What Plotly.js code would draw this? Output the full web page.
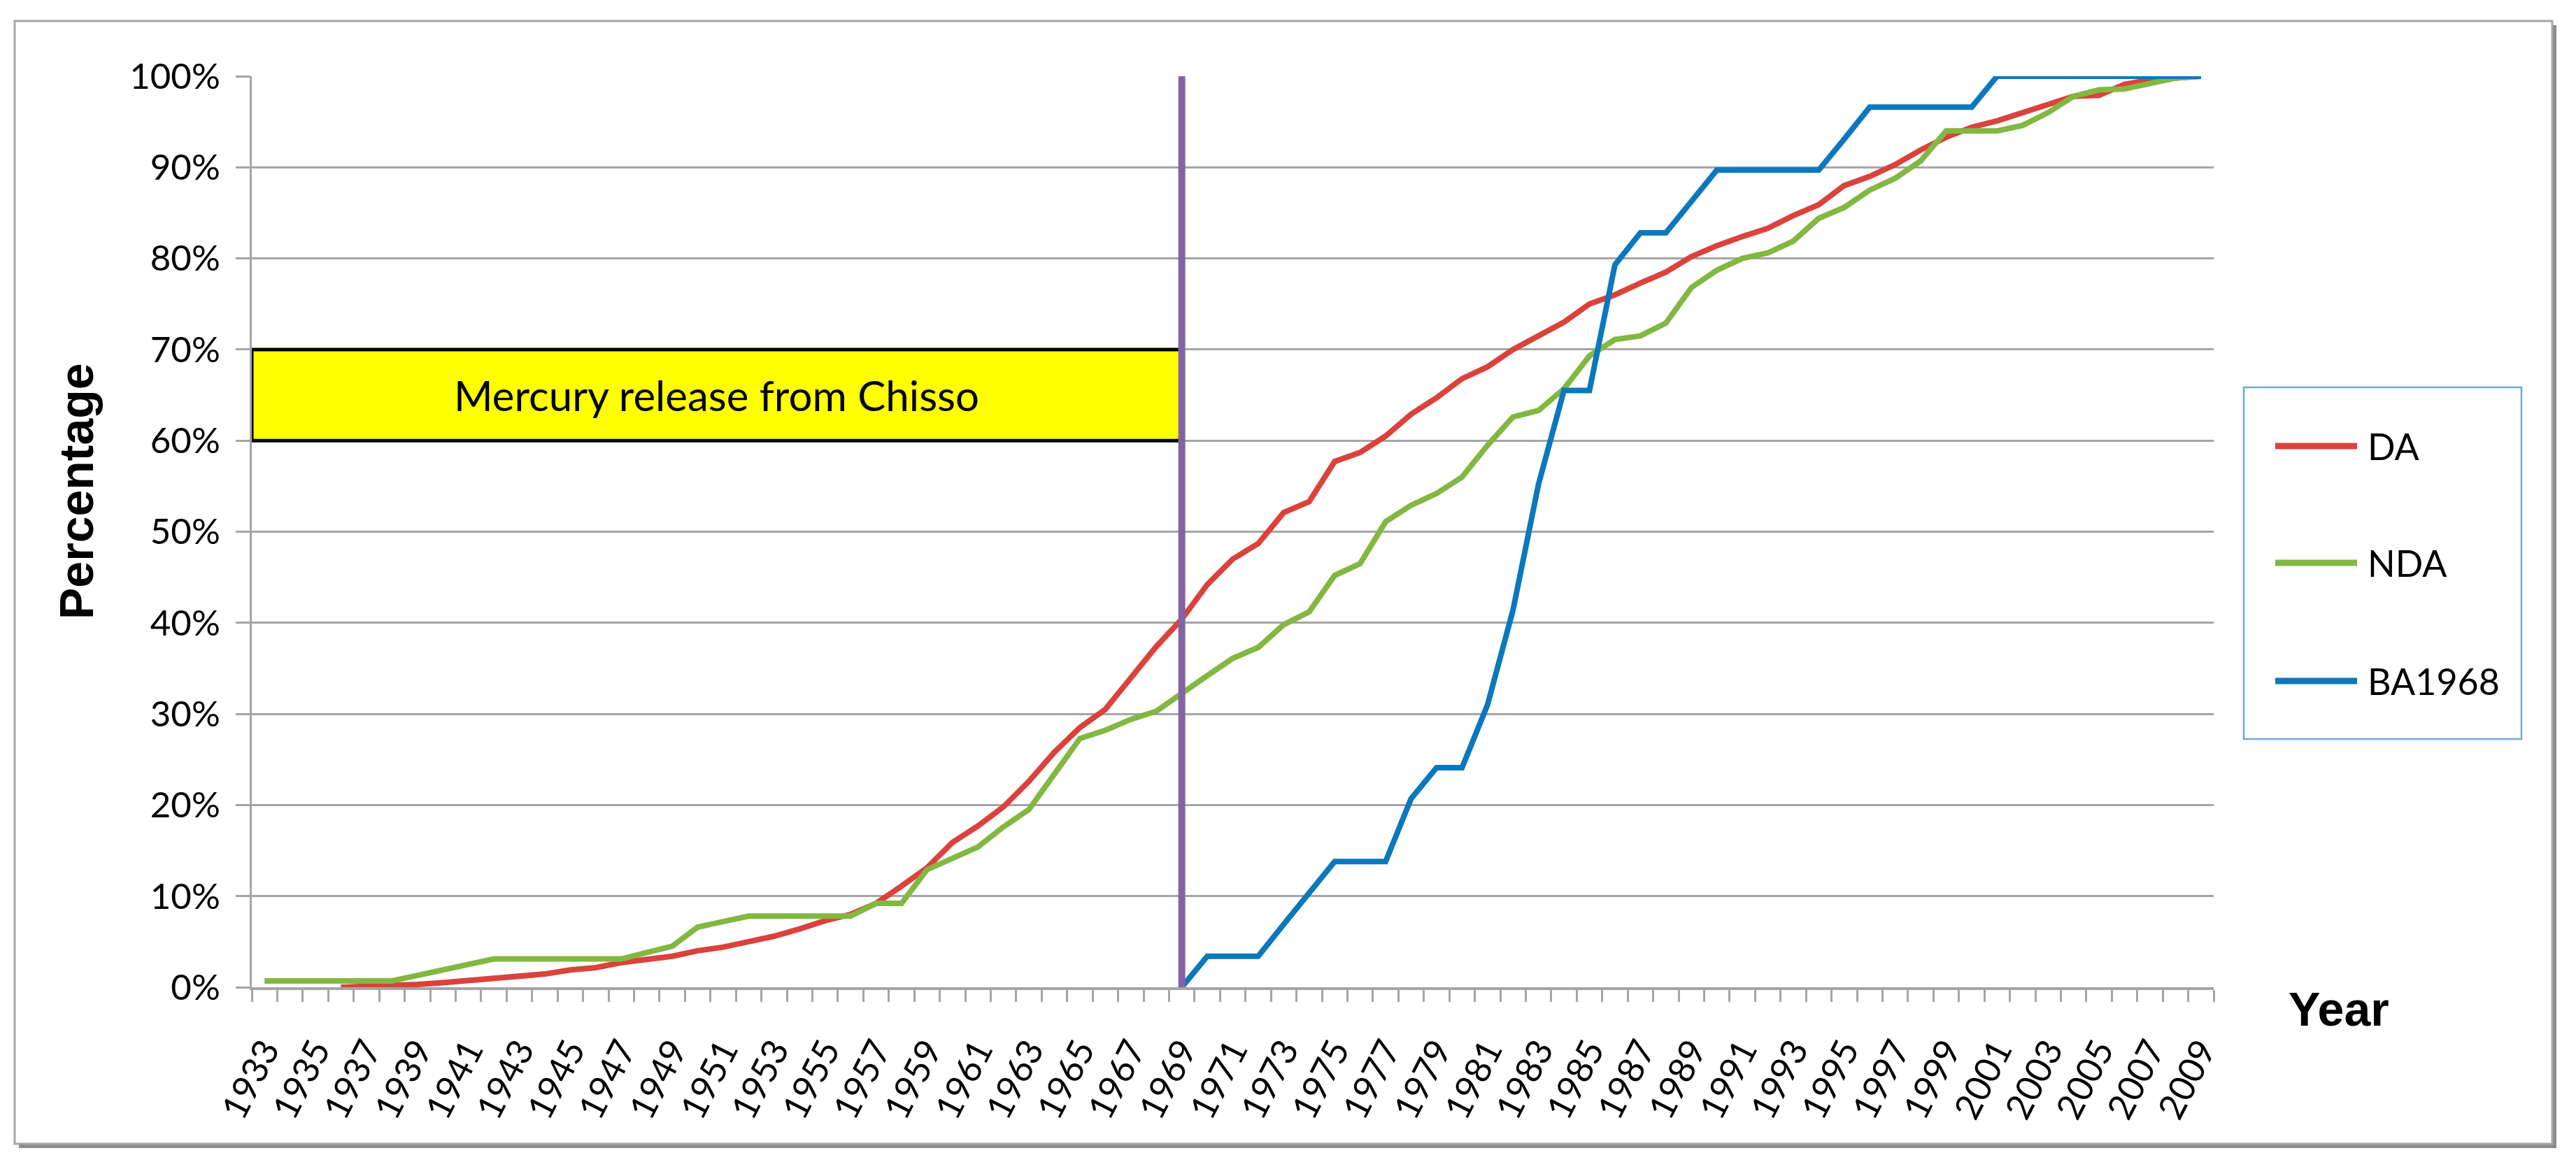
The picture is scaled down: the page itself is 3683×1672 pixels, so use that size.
<!DOCTYPE html>
<html>
<head>
<meta charset="utf-8">
<script src="https://cdn.plot.ly/plotly-3.0.1.min.js"></script>
<style>
  body { margin: 0; background: #fff; }
</style>
</head>
<body>
<div id="chart" style="width:3683px;height:1672px"></div>
<script>
// years on the category axis
const years = [
  1933, 1934, 1935, 1936, 1937, 1938, 1939, 1940, 1941, 1942, 1943, 1944, 1945, 1946, 1947, 1948,
  1949, 1950, 1951, 1952, 1953, 1954, 1955, 1956, 1957, 1958, 1959, 1960, 1961, 1962, 1963, 1964,
  1965, 1966, 1967, 1968, 1969, 1970, 1971, 1972, 1973, 1974, 1975, 1976, 1977, 1978, 1979, 1980,
  1981, 1982, 1983, 1984, 1985, 1986, 1987, 1988, 1989, 1990, 1991, 1992, 1993, 1994, 1995, 1996,
  1997, 1998, 1999, 2000, 2001, 2002, 2003, 2004, 2005, 2006, 2007, 2008, 2009
];

// cumulative percentage
const da = [
  null, null, null, 0, 0.05, 0.15, 0.3, 0.5, 0.75, 1.0, 1.2, 1.45, 1.9, 2.15, 2.7, 3.1,
  3.4, 4.0, 4.4, 5.0, 5.6, 6.4, 7.3, 8.0, 9.2, 11.1, 13.1, 15.9, 17.7, 19.8, 22.6, 25.8,
  28.5, 30.5, 33.9, 37.4, 40.4, 44.2, 47.0, 48.7, 52.1, 53.3, 57.7, 58.7, 60.5, 62.9, 64.7, 66.8,
  68.1, 70.0, 71.5, 73.0, 75.0, 76.0, 77.3, 78.5, 80.2, 81.4, 82.4, 83.3, 84.7, 85.9, 88.0, 89.0,
  90.3, 91.9, 93.3, 94.4, 95.1, 96.0, 96.9, 97.8, 97.9, 99.1, 99.6, 99.8, 100
];

const nda = [
  0.7, 0.7, 0.7, 0.7, 0.7, 0.7, 1.3, 1.9, 2.5, 3.1, 3.1, 3.1, 3.1, 3.1, 3.1, 3.8,
  4.5, 6.6, 7.2, 7.8, 7.8, 7.8, 7.8, 7.8, 9.2, 9.2, 12.9, 14.1, 15.4, 17.6, 19.5, 23.4,
  27.3, 28.2, 29.4, 30.3, 32.3, 34.2, 36.1, 37.3, 39.8, 41.2, 45.2, 46.5, 51.1, 52.9, 54.2, 56.0,
  59.5, 62.6, 63.3, 65.7, 69.3, 71.1, 71.5, 72.9, 76.8, 78.7, 80.0, 80.6, 81.9, 84.4, 85.6, 87.5,
  88.8, 90.7, 94.0, 94.0, 94.0, 94.6, 96.0, 97.8, 98.5, 98.6, 99.2, 99.8, 100
];

const ba1968 = [
  null, null, null, null, null, null, null, null, null, null, null, null,
  null, null, null, null, null, null, null, null, null, null, null, null,
  null, null, null, null, null, null, null, null, null, null, null, null,
  0, 3.4, 3.4, 3.4, 6.9, 10.3, 13.8, 13.8, 13.8, 20.7, 24.1, 24.1,
  31.0, 41.4, 55.2, 65.5, 65.5, 79.3, 82.8, 82.8, 86.2, 89.7, 89.7, 89.7,
  89.7, 89.7, 93.1, 96.6, 96.6, 96.6, 96.6, 96.6, 100, 100, 100, 100,
  100, 100, 100, 100, 100
];

const seriesNames = ['DA', 'NDA', 'BA1968'];
const seriesColors = ['#DB423C', '#82B842', '#0B78BE'];

// end of the mercury release period
const releaseYear = [1969, 1969];
const releaseSpan = [0, 100];
const releaseBand = [60, 70];
const releaseText = 'Mercury release from Chisso';

const yTickVals = [0, 10, 20, 30, 40, 50, 60, 70, 80, 90, 100];
const yTickText = ['0%', '10%', '20%', '30%', '40%', '50%', '60%', '70%', '80%', '90%', '100%'];
const xLabelYears = years.filter(y => y % 2 === 1);

// plot area in page pixels
const L = 360, R = 3165, T = 109, B = 1412;
const px = v => (v - L) / (R - L);
const py = v => (B - v) / (B - T);

const grey = '#A5A5A5';
const tickFont = { family: 'Lato, sans-serif', size: 51, color: '#000' };

const traces = [da, nda, ba1968].map((vals, i) => ({
  x: years,
  y: vals,
  name: seriesNames[i],
  type: 'scatter',
  mode: 'lines',
  line: { color: seriesColors[i], width: 8 },
  cliponaxis: false,
  showlegend: false
}));

traces.push({
  x: releaseYear,
  y: releaseSpan,
  type: 'scatter',
  mode: 'lines',
  line: { color: '#8363A6', width: 10 },
  cliponaxis: false,
  showlegend: false
});

const shapes = [
  // frame shadow and frame
  {
    type: 'rect', xref: 'paper', yref: 'paper', layer: 'below',
    x0: px(27), x1: px(3655), y0: py(1642), y1: py(36),
    fillcolor: '#8a8a8a', line: { width: 0 }
  },
  {
    type: 'rect', xref: 'paper', yref: 'paper', layer: 'below',
    x0: px(21), x1: px(3649), y0: py(1636), y1: py(30),
    fillcolor: '#ffffff', line: { color: '#a6a6a6', width: 3 }
  },
  // yellow box
  {
    type: 'rect', xref: 'x', yref: 'y', layer: 'between',
    x0: years[0] - 0.5, x1: releaseYear[0], y0: releaseBand[0], y1: releaseBand[1],
    fillcolor: '#FFFF00', line: { color: '#000', width: 5 }
  },
  // legend box
  {
    type: 'rect', xref: 'paper', yref: 'paper',
    x0: px(3208), x1: px(3605), y0: py(1057), y1: py(554),
    fillcolor: 'rgba(0,0,0,0)', line: { color: '#6FA8DC', width: 2.5 }
  }
];

const annotations = [
  {
    xref: 'x', yref: 'y', x: (years[0] - 0.5 + releaseYear[0]) / 2, y: (releaseBand[0] + releaseBand[1]) / 2,
    xanchor: 'center', yanchor: 'middle',
    text: releaseText, showarrow: false,
    font: { family: 'Lato, sans-serif', size: 60, color: '#000' }
  },
  {
    xref: 'paper', yref: 'paper', x: px(109), y: py(703), textangle: -90,
    xanchor: 'center', yanchor: 'middle',
    text: '<b>Percentage</b>', showarrow: false,
    font: { family: 'Liberation Sans, Arial, sans-serif', size: 68, color: '#000' }
  },
  {
    xref: 'paper', yref: 'paper', x: px(3344), y: py(1443),
    xanchor: 'center', yanchor: 'middle',
    text: '<b>Year</b>', showarrow: false,
    font: { family: 'Liberation Sans, Arial, sans-serif', size: 68, color: '#000' }
  }
];

const legendRows = [638, 805, 974];
seriesNames.forEach((name, i) => {
  shapes.push({
    type: 'line', xref: 'paper', yref: 'paper',
    x0: px(3253), x1: px(3370), y0: py(legendRows[i]), y1: py(legendRows[i]),
    line: { color: seriesColors[i], width: 9 }
  });
  annotations.push({
    xref: 'paper', yref: 'paper', x: px(3383), y: py(legendRows[i]),
    xanchor: 'left', yanchor: 'middle', text: name, showarrow: false,
    font: { family: 'Lato, sans-serif', size: 52, color: '#000' }
  });
});

const layout = {
  width: 3683,
  height: 1672,
  autosize: false,
  margin: { l: L, r: 3683 - R, t: T, b: 1672 - B, pad: 0 },
  paper_bgcolor: '#ffffff',
  plot_bgcolor: 'rgba(0,0,0,0)',
  showlegend: false,
  xaxis: {
    type: 'linear',
    range: [years[0] - 0.5, years[years.length - 1] + 0.5],
    tickmode: 'array',
    tickvals: xLabelYears,
    ticktext: xLabelYears.map(String),
    tickangle: -63,
    ticks: '',
    ticklabelstandoff: 36,
    tickfont: tickFont,
    showgrid: false,
    zeroline: false,
    showline: true,
    linecolor: grey,
    linewidth: 4,
    minor: {
      ticks: 'outside',
      tick0: years[0] - 0.5,
      dtick: 1,
      ticklen: 17,
      tickwidth: 3,
      tickcolor: grey,
      showgrid: false
    }
  },
  yaxis: {
    range: [0, 100],
    tickmode: 'array',
    tickvals: yTickVals,
    ticktext: yTickText,
    ticks: 'outside',
    ticklen: 20,
    tickwidth: 3,
    tickcolor: grey,
    ticklabelstandoff: 12,
    tickfont: tickFont,
    showgrid: true,
    gridcolor: grey,
    gridwidth: 3,
    zeroline: false,
    showline: true,
    linecolor: grey,
    linewidth: 3
  },
  shapes: shapes,
  annotations: annotations
};

Plotly.newPlot('chart', traces, layout, { staticPlot: true, displayModeBar: false });
</script>
</body>
</html>
